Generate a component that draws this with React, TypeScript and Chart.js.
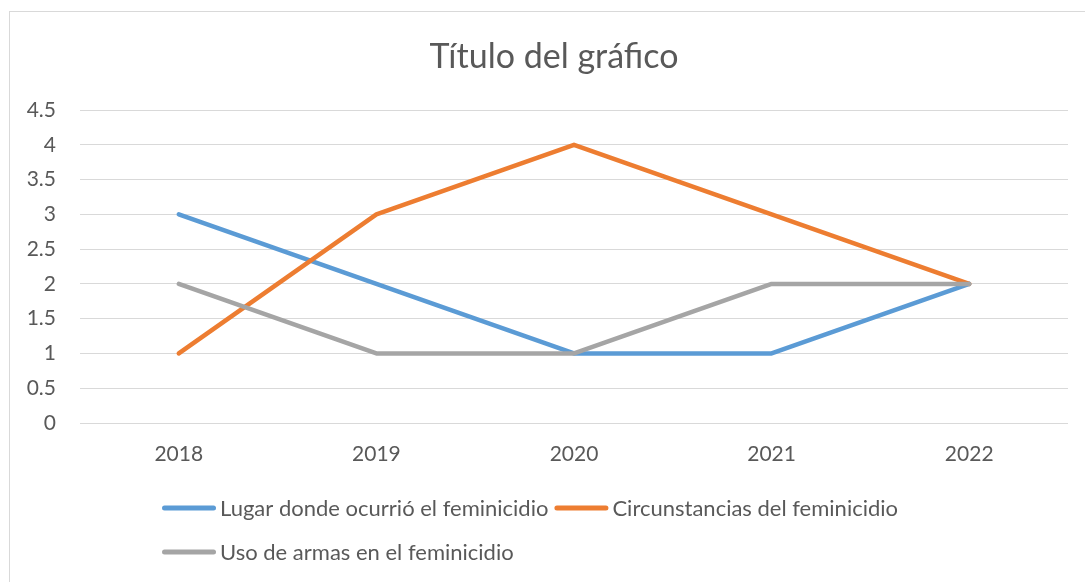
import React, { useEffect, useRef } from "react";
import { Chart, registerables } from "chart.js";

Chart.register(...registerables);

const categories = ["2018", "2019", "2020", "2021", "2022"];
const seriesNames = [
  "Lugar donde ocurrió el feminicidio",
  "Circunstancias del feminicidio",
  "Uso de armas en el feminicidio",
];
const lugarValues = [3, 2, 1, 1, 2];
const circunstanciasValues = [1, 3, 4, 3, 2];
const armasValues = [2, 1, 1, 2, 2];
const seriesColors = ["#5B9BD5", "#ED7D31", "#A5A5A5"];
const chartTitle = "Título del gráfico";

const FONT = "Lato, 'Noto Sans', sans-serif";
const TEXT = "#595959";

const framePlugin = {
  id: "frame",
  beforeDraw(chart: any) {
    const ctx = chart.ctx;
    ctx.save();
    ctx.fillStyle = "#ffffff";
    ctx.fillRect(0, 0, chart.width, chart.height);
    ctx.strokeStyle = "#d9d9d9";
    ctx.lineWidth = 1;
    ctx.strokeRect(9.5, 11.5, 1090, 600);
    ctx.restore();
  },
  afterDraw(chart: any) {
    const ctx = chart.ctx;
    ctx.save();
    ctx.fillStyle = TEXT;
    ctx.textBaseline = "middle";
    ctx.textAlign = "center";
    ctx.font = `34px ${FONT}`;
    ctx.fillText(chartTitle, 554, 57);

    ctx.font = `22px ${FONT}`;
    ctx.textAlign = "left";
    const rows = [
      { y: 508, items: [0, 1] },
      { y: 552, items: [2] },
    ];
    rows.forEach((row) => {
      let x = 162;
      row.items.forEach((i) => {
        const ds = chart.data.datasets[i];
        const len = 54;
        ctx.strokeStyle = ds.borderColor;
        ctx.lineWidth = 5;
        ctx.lineCap = "round";
        ctx.beginPath();
        ctx.moveTo(x + 2.5, row.y);
        ctx.lineTo(x + len - 2.5, row.y);
        ctx.stroke();
        ctx.fillStyle = TEXT;
        const tx = x + len + 4;
        ctx.fillText(ds.label, tx, row.y + 1);
        x = tx + ctx.measureText(ds.label).width + 6;
      });
    });
    ctx.restore();
  },
};

export default function App() {
  const ref = useRef<HTMLCanvasElement>(null);
  useEffect(() => {
    if (!ref.current) return;
    const chart = new Chart(ref.current, {
      type: "line",
      data: {
        labels: categories,
        datasets: [
          {
            label: seriesNames[0],
            data: lugarValues,
            borderColor: seriesColors[0],
            backgroundColor: seriesColors[0],
            order: 2,
          },
          {
            label: seriesNames[1],
            data: circunstanciasValues,
            borderColor: seriesColors[1],
            backgroundColor: seriesColors[1],
            order: 1,
          },
          {
            label: seriesNames[2],
            data: armasValues,
            borderColor: seriesColors[2],
            backgroundColor: seriesColors[2],
            order: 0,
          },
        ],
      },
      options: {
        animation: false,
        responsive: false,
        maintainAspectRatio: false,
        elements: {
          line: {
            borderWidth: 4.5,
            tension: 0,
            borderJoinStyle: "round",
            borderCapStyle: "round",
          },
          point: { radius: 0, hoverRadius: 0 },
        },
        layout: { padding: { top: 110, left: 0, right: 17, bottom: 109 } },
        plugins: {
          legend: { display: false },
          title: { display: false },
          tooltip: { enabled: false },
        },
        scales: {
          x: {
            offset: true,
            grid: { display: false, drawTicks: false },
            border: { display: false },
            ticks: { color: TEXT, font: { family: FONT, size: 21 }, padding: 19 },
            afterFit(scale: any) {
              scale.height = 50;
            },
          },
          y: {
            min: 0,
            max: 4.5,
            ticks: {
              stepSize: 0.5,
              color: TEXT,
              font: { family: FONT, size: 21 },
              padding: 24,
              callback: (v: any) => String(Number(v)),
            },
            grid: { color: "#d9d9d9", lineWidth: 1, drawTicks: false },
            border: { display: false },
            afterFit(scale: any) {
              scale.width = 80;
            },
          },
        },
      },
      plugins: [framePlugin],
    });
    return () => chart.destroy();
  }, []);
  return (
    <div style={{ position: "fixed", left: 0, top: 0, width: 1085, height: 582 }}>
      <canvas ref={ref} width={1085} height={582} style={{ display: "block" }} />
    </div>
  );
}
